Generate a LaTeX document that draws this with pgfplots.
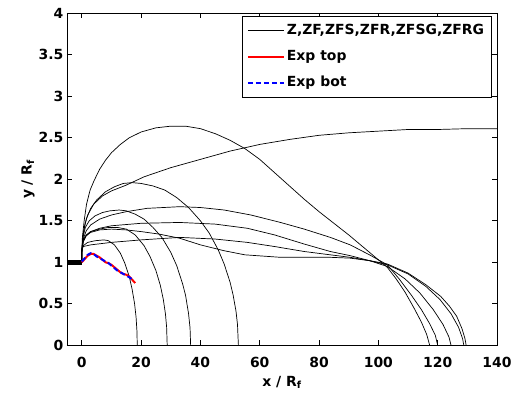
\documentclass[border=0pt]{standalone}
\usepackage{fontspec}
\setmainfont{DejaVu Sans}
\usepackage{pgfplots}
\pgfplotsset{compat=1.18}
\begin{document}
\begin{tikzpicture}
\begin{axis}[
  name=ax,
  width=430.3bp, height=332.2bp, scale only axis,
  xmin=-5, xmax=140, ymin=0, ymax=4,
  xtick={0,20,...,140}, ytick={0,0.5,...,4},
  tick align=inside, major tick length=5bp,
  every tick/.style={black, line width=0.6bp},
  axis line style={line width=0.8bp, black},
  /pgf/number format/assume math mode=true,
  tick label style={font=\fontsize{14}{16}\selectfont\bfseries},
  xticklabel style={yshift=-8bp},
  xlabel={x / R\textsubscript{f}},
  ylabel={y / R\textsubscript{f}},
  every axis x label/.style={at={(axis description cs:0.5,-0.124)}, anchor=base, font=\fontsize{14}{16}\selectfont\bfseries},
  every axis y label/.style={at={(axis description cs:-0.082,0.5)}, anchor=base, rotate=90, font=\fontsize{14}{16}\selectfont\bfseries},
  legend cell align=left,
  legend image code/.code={\draw[#1] (0bp,0bp) -- (36bp,0bp);},
  legend style={at={(0.987,0.992)}, anchor=north east, draw=black, line width=0.6bp, fill=white,
    font=\fontsize{14}{16}\selectfont\bfseries, inner xsep=5bp, inner ysep=5bp, row sep=7bp,
    nodes={text height=11bp, text depth=4bp, inner sep=2bp}},
]
% model curves
\addplot[black, line width=0.7bp] coordinates {
(0,1.0)(0,1.12)(0.5,1.28)(1.5,1.38)(3,1.45)(6,1.52)(10,1.57)(15,1.61)(22,1.65)(33,1.67)(40,1.66)(48,1.63)(57,1.57)(67,1.48)(75,1.40)(83.8,1.30)(90.5,1.21)(97,1.09)(103,0.97)(107,0.8)(111,0.61)(114.5,0.43)(117.3,0.26)(119.2,0.12)(120,0)};
\addlegendentry{Z,ZF,ZFS,ZFR,ZFSG,ZFRG}
\addplot[black, line width=0.7bp, forget plot] coordinates {
(0,1.0)(0,1.12)(0.2,1.3)(0.8,1.5)(1.6,1.7)(2.8,1.87)(4.1,1.98)(6,2.12)(8,2.23)(10,2.32)(13,2.42)(16,2.5)(20,2.57)(25,2.62)(30,2.64)(35,2.64)(40,2.61)(45,2.55)(50,2.47)(55,2.37)(60,2.24)(65,2.08)(70,1.92)(75,1.76)(80,1.61)(85,1.47)(90,1.33)(95,1.18)(100,1.03)(103,0.94)(106,0.8)(109,0.64)(112,0.45)(114.5,0.28)(116.3,0.13)(117.3,0)};
\addplot[black, line width=0.7bp, forget plot] coordinates {
(0,1.0)(0,1.12)(0.3,1.3)(1,1.45)(2,1.57)(4,1.7)(7,1.8)(10,1.86)(15,1.93)(21,2.03)(30,2.14)(40,2.24)(50,2.34)(60,2.42)(70,2.48)(80,2.53)(90,2.56)(100,2.58)(110,2.6)(120,2.6)(130,2.61)(140,2.61)};
\addplot[black, line width=0.7bp, forget plot] coordinates {
(0,1.0)(0,1.12)(0.5,1.35)(1.5,1.52)(3,1.65)(5,1.75)(8,1.85)(11,1.91)(14,1.95)(17,1.96)(20,1.95)(24,1.92)(28,1.87)(32,1.78)(36,1.66)(40,1.50)(43,1.35)(46,1.15)(48,0.98)(50,0.76)(51,0.61)(52,0.41)(52.5,0.25)(52.8,0)};
\addplot[black, line width=0.7bp, forget plot] coordinates {
(0,1.0)(0,1.12)(0.4,1.3)(1.2,1.42)(2.5,1.5)(4.5,1.56)(7,1.6)(9.5,1.62)(12.6,1.63)(15,1.62)(18,1.58)(21,1.52)(24,1.42)(27,1.30)(30,1.12)(32,0.96)(34,0.74)(35,0.60)(36,0.38)(36.5,0.21)(36.7,0)};
\addplot[black, line width=0.7bp, forget plot] coordinates {
(0,1.0)(0,1.15)(0.5,1.27)(1.5,1.33)(3,1.37)(6,1.4)(9,1.42)(12,1.42)(15,1.40)(18,1.33)(21,1.20)(23,1.07)(25,0.90)(26.5,0.72)(27.5,0.55)(28.2,0.38)(28.6,0.22)(28.8,0)};
\addplot[black, line width=0.7bp, forget plot] coordinates {
(0,1.0)(0,1.15)(0.5,1.2)(2,1.24)(4.5,1.26)(7.5,1.27)(9,1.26)(11,1.21)(13,1.11)(14.5,0.99)(16,0.83)(17,0.67)(17.8,0.50)(18.3,0.34)(18.6,0.17)(18.7,0)};
\addplot[black, line width=0.7bp, forget plot] coordinates {
(0,1.0)(0,1.12)(0.5,1.25)(1.5,1.32)(3,1.37)(6,1.41)(10,1.44)(20,1.47)(33,1.48)(45,1.46)(55.8,1.41)(65,1.33)(75,1.22)(83.8,1.13)(90.5,1.08)(97,1.02)(103,0.95)(109,0.8)(114,0.63)(118.5,0.43)(121.8,0.25)(123.8,0.1)(124.5,0)};
\addplot[black, line width=0.7bp, forget plot] coordinates {
(0,1.0)(0,1.15)(0.5,1.19)(3,1.21)(10,1.24)(20,1.27)(33,1.30)(45,1.28)(55.8,1.24)(65,1.19)(75,1.13)(83.8,1.09)(90.5,1.06)(97,1.02)(103,0.97)(110,0.86)(116,0.71)(120.8,0.55)(124.5,0.38)(127,0.22)(128.4,0.08)(128.8,0)};
\addplot[black, line width=0.7bp, forget plot] coordinates {
(0,1.0)(0,1.12)(0.5,1.25)(1.5,1.32)(3,1.36)(6,1.39)(10,1.40)(15,1.39)(20,1.37)(26,1.34)(33,1.29)(40,1.21)(47.9,1.14)(55,1.09)(67,1.06)(75,1.06)(83.8,1.06)(90.5,1.05)(97,1.02)(103,0.98)(110,0.87)(116,0.73)(121,0.59)(124,0.47)(126.4,0.35)(128.2,0.2)(129.2,0.08)(129.6,0)};
% nozzle
\addplot[black, line width=5bp, forget plot] coordinates {(-5,1) (0,1)};
% experiments
\addplot[red, line width=2bp] coordinates {
(0,1.0)(1,1.04)(2,1.08)(3,1.1)(4,1.1)(5,1.08)(6,1.06)(7,1.03)(8,1.0)(9,0.99)(10,0.97)(11,0.94)(12,0.91)(13,0.88)(14,0.86)(15,0.85)(16,0.83)(17,0.79)(18,0.75)};
\addlegendentry{Exp top}
\addplot[blue, line width=2bp, dash pattern=on 5bp off 3bp] coordinates {
(0,1.01)(1,1.05)(2,1.09)(3,1.11)(4,1.1)(5,1.07)(6,1.05)(7,1.03)(8,1.01)(9,0.99)(10,0.96)(11,0.93)(12,0.9)(13,0.88)(14,0.86)(15,0.84)(16,0.82)(16.8,0.8)};
\addlegendentry{Exp bot}
\end{axis}
\pgfresetboundingbox
\path[use as bounding box] ([shift={(-67bp,-48.5bp)}]ax.south west) rectangle ([shift={(15bp,13.3bp)}]ax.north east);
\end{tikzpicture}
\end{document}
